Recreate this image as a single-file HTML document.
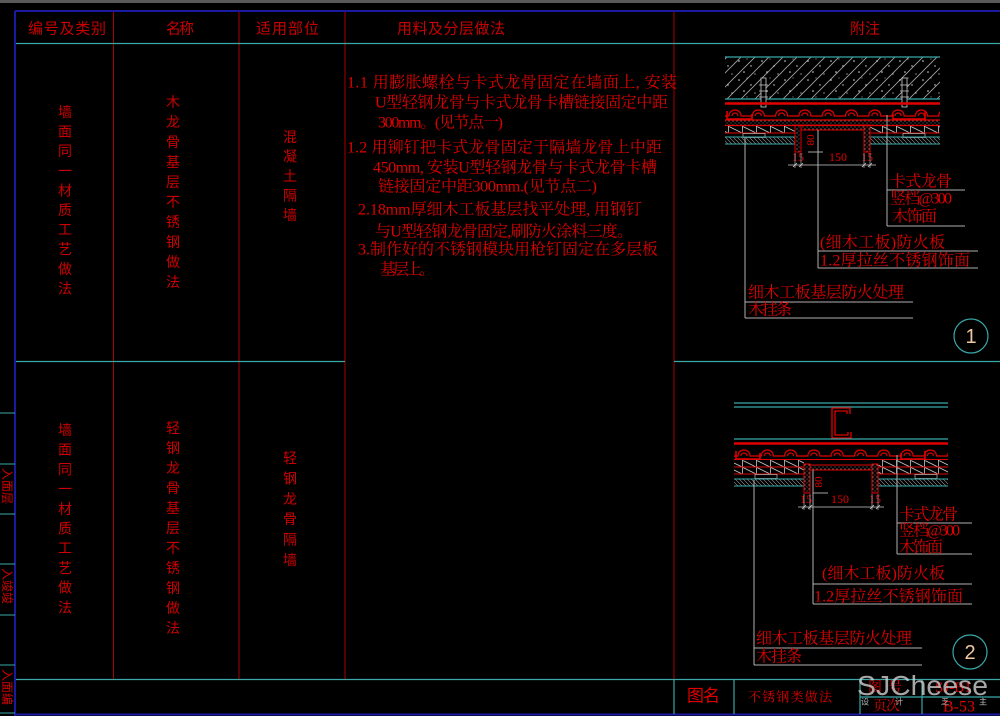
<!DOCTYPE html>
<html><head><meta charset="utf-8">
<style>
html,body{margin:0;padding:0;background:#000;overflow:hidden;}
svg{display:block;}
.h{font-family:"Liberation Sans","Noto Sans CJK SC",sans-serif;font-size:15px;fill:#c80000;dominant-baseline:central;}
.v{font-family:"Liberation Sans","Noto Sans CJK SC",sans-serif;font-size:14px;fill:#cc0000;text-anchor:middle;dominant-baseline:central;}
.t{font-family:"Liberation Serif","Noto Serif CJK SC",serif;font-size:16px;fill:#e00000;dominant-baseline:central;}
.d{font-family:"Liberation Serif","Noto Serif CJK SC",serif;font-size:12px;fill:#e00000;text-anchor:middle;dominant-baseline:central;}
.s{font-family:"Liberation Sans","Noto Sans CJK SC",sans-serif;font-size:8px;fill:#bbbbbb;dominant-baseline:central;}
</style></head><body>
<svg width="1000" height="716" viewBox="0 0 1000 716" xmlns="http://www.w3.org/2000/svg">
<defs>
  <pattern id="conc" patternUnits="userSpaceOnUse" width="14" height="14">
    <path d="M0 14 L14 0 M-2 2 L2 -2 M12 16 L16 12" stroke="#a8a8a8" stroke-width="0.8"/>
  </pattern>
  <pattern id="dots" patternUnits="userSpaceOnUse" width="23" height="19">
    <circle cx="3" cy="4" r="0.8" fill="#ddd"/><circle cx="15" cy="9" r="0.7" fill="#ddd"/>
    <circle cx="8" cy="15" r="0.8" fill="#ddd"/><circle cx="19" cy="17" r="0.6" fill="#ddd"/>
    <circle cx="11" cy="2" r="0.5" fill="#ddd"/>
  </pattern>
  <pattern id="fine" patternUnits="userSpaceOnUse" width="4" height="4">
    <circle cx="1" cy="1" r="0.6" fill="#b89090"/><circle cx="3" cy="3" r="0.5" fill="#b89090"/>
  </pattern>
  <pattern id="zig1" patternUnits="userSpaceOnUse" x="0" y="126" width="14" height="7">
    <path d="M0 0 L14 7 M0.5 0 V7" stroke="#c8c8c8" stroke-width="0.8" fill="none"/>
  </pattern>
  <pattern id="zig2" patternUnits="userSpaceOnUse" x="0" y="460" width="14" height="7">
    <path d="M0 0 L14 7 M0.5 0 V7" stroke="#c8c8c8" stroke-width="0.8" fill="none"/>
  </pattern>
  <pattern id="hat" patternUnits="userSpaceOnUse" width="4" height="4">
    <path d="M0 0 L4 4 M-1 3 L1 5 M3 -1 L5 1" stroke="#9a9a9a" stroke-width="0.6"/>
  </pattern>
  <pattern id="wave1" patternUnits="userSpaceOnUse" x="725" y="106" width="23.3" height="12">
    <path d="M0 10 H4 C4 2 16 2 16 10 H23.3 M7 10 C7 6 13 6 13 10" stroke="#e00000" stroke-width="1.2" fill="none"/>
  </pattern>
  <pattern id="wave2" patternUnits="userSpaceOnUse" x="734" y="446" width="23.3" height="12">
    <path d="M0 10 H4 C4 2 16 2 16 10 H23.3 M7 10 C7 6 13 6 13 10" stroke="#e00000" stroke-width="1.2" fill="none"/>
  </pattern>
</defs>

<rect x="0" y="0" width="1000" height="716" fill="#000"/>
<rect x="0" y="0" width="1000" height="3" fill="#5a5a5a"/>

<!-- frame -->
<line x1="15" y1="11" x2="1000" y2="11" stroke="#1a1aa0" stroke-width="2"/>
<line x1="15" y1="11" x2="15" y2="716" stroke="#1a1aa0" stroke-width="2"/>
<line x1="15" y1="714.5" x2="1000" y2="714.5" stroke="#1a1aa0" stroke-width="2"/>

<!-- grid -->
<g stroke="#a80000" stroke-width="1">
  <line x1="113.5" y1="12" x2="113.5" y2="679"/>
  <line x1="239" y1="12" x2="239" y2="679"/>
  <line x1="345" y1="12" x2="345" y2="679"/>
  <line x1="674" y1="12" x2="674" y2="679"/>
</g>
<g stroke="#3aa8a8" stroke-width="1.2">
  <line x1="16" y1="43.5" x2="1000" y2="43.5"/>
  <line x1="16" y1="361.5" x2="345" y2="361.5"/>
  <line x1="674" y1="361.5" x2="1000" y2="361.5"/>
  <line x1="16" y1="679.5" x2="1000" y2="679.5"/>
  <line x1="674" y1="679.5" x2="674" y2="714"/>
  <line x1="734" y1="679.5" x2="734" y2="714"/>
  <line x1="860" y1="679.5" x2="860" y2="714"/>
  <line x1="922" y1="679.5" x2="922" y2="714"/>
  <line x1="860" y1="697" x2="1000" y2="697"/>
</g>

<!-- left margin ticks -->
<g stroke="#3aa8a8" stroke-width="1">
  <line x1="0" y1="413" x2="15" y2="413"/>
  <line x1="0" y1="464" x2="15" y2="464"/>
  <line x1="0" y1="514" x2="15" y2="514"/>
  <line x1="0" y1="564" x2="15" y2="564"/>
  <line x1="0" y1="615" x2="15" y2="615"/>
  <line x1="0" y1="665" x2="15" y2="665"/>
  <line x1="0" y1="713" x2="15" y2="713"/>
</g>
<g style="font-family:'Liberation Sans','Noto Sans CJK SC',sans-serif;font-size:12px;fill:#d40000;">
  <text transform="translate(3,468) rotate(90)">入面层</text>
  <text transform="translate(3,568) rotate(90)">入竣竣</text>
  <text transform="translate(3,669) rotate(90)">入面编</text>
</g>

<!-- headers -->
<text class="h" x="28" y="29" textLength="78" lengthAdjust="spacing">编号及类别</text>
<text class="h" x="166" y="29" textLength="28" lengthAdjust="spacing">名称</text>
<text class="h" x="256" y="29" textLength="63" lengthAdjust="spacing">适用部位</text>
<text class="h" x="397" y="29" textLength="108" lengthAdjust="spacing">用料及分层做法</text>
<text class="h" x="850" y="29" textLength="30" lengthAdjust="spacing">附注</text>

<!-- vertical cells row 1 -->
<text class="v" x="65" y="112">墙</text><text class="v" x="65" y="131.6">面</text><text class="v" x="65" y="151.2">同</text><text class="v" x="65" y="170.8">一</text><text class="v" x="65" y="190.4">材</text><text class="v" x="65" y="210">质</text><text class="v" x="65" y="229.6">工</text><text class="v" x="65" y="249.2">艺</text><text class="v" x="65" y="268.8">做</text><text class="v" x="65" y="288.4">法</text>
<text class="v" x="173" y="102">木</text><text class="v" x="173" y="122">龙</text><text class="v" x="173" y="142">骨</text><text class="v" x="173" y="162">基</text><text class="v" x="173" y="182">层</text><text class="v" x="173" y="202">不</text><text class="v" x="173" y="222">锈</text><text class="v" x="173" y="242">钢</text><text class="v" x="173" y="262">做</text><text class="v" x="173" y="282">法</text>
<text class="v" x="290" y="137">混</text><text class="v" x="290" y="156.5">凝</text><text class="v" x="290" y="176">土</text><text class="v" x="290" y="195.5">隔</text><text class="v" x="290" y="215">墙</text>
<!-- vertical cells row 2 -->
<text class="v" x="65" y="430">墙</text><text class="v" x="65" y="449.7">面</text><text class="v" x="65" y="469.4">同</text><text class="v" x="65" y="489.1">一</text><text class="v" x="65" y="508.8">材</text><text class="v" x="65" y="528.5">质</text><text class="v" x="65" y="548.2">工</text><text class="v" x="65" y="567.9">艺</text><text class="v" x="65" y="587.6">做</text><text class="v" x="65" y="607.3">法</text>
<text class="v" x="173" y="428">轻</text><text class="v" x="173" y="448">钢</text><text class="v" x="173" y="468">龙</text><text class="v" x="173" y="488">骨</text><text class="v" x="173" y="508">基</text><text class="v" x="173" y="528">层</text><text class="v" x="173" y="548">不</text><text class="v" x="173" y="568">锈</text><text class="v" x="173" y="588">钢</text><text class="v" x="173" y="608">做</text><text class="v" x="173" y="628">法</text>
<text class="v" x="290" y="458">轻</text><text class="v" x="290" y="478.4">钢</text><text class="v" x="290" y="498.8">龙</text><text class="v" x="290" y="519.2">骨</text><text class="v" x="290" y="539.6">隔</text><text class="v" x="290" y="560">墙</text>

<!-- middle text -->
<text class="t" x="347" y="83" textLength="330" lengthAdjust="spacing">1.1 用膨胀螺栓与卡式龙骨固定在墙面上, 安装</text>
<text class="t" x="375" y="103" textLength="293" lengthAdjust="spacing">U型轻钢龙骨与卡式龙骨卡槽链接固定中距</text>
<text class="t" x="378" y="123" textLength="125" lengthAdjust="spacing">300mm。(见节点一)</text>
<text class="t" x="347" y="148" textLength="315" lengthAdjust="spacing">1.2 用铆钉把卡式龙骨固定于隔墙龙骨上中距</text>
<text class="t" x="373" y="168" textLength="284" lengthAdjust="spacing">450mm, 安装U型轻钢龙骨与卡式龙骨卡槽</text>
<text class="t" x="378" y="187" textLength="219" lengthAdjust="spacing">链接固定中距300mm.(见节点二)</text>
<text class="t" x="358" y="210" textLength="284" lengthAdjust="spacing">2.18mm厚细木工板基层找平处理, 用钢钉</text>
<text class="t" x="375" y="232" textLength="258" lengthAdjust="spacing">与U型轻钢龙骨固定,刷防火涂料三度。</text>
<text class="t" x="358" y="250" textLength="300" lengthAdjust="spacing">3.制作好的不锈钢模块用枪钉固定在多层板</text>
<text class="t" x="380" y="270" textLength="55" lengthAdjust="spacing">基层上。</text>

<!-- ============ DETAIL 1 ============ -->
<rect x="725" y="57" width="215" height="42" fill="url(#conc)"/>
<rect x="725" y="57" width="215" height="42" fill="url(#dots)"/>
<line x1="725" y1="57" x2="940" y2="57" stroke="#3aa8a8" stroke-width="1.2"/>
<line x1="725" y1="99" x2="940" y2="99" stroke="#3aa8a8" stroke-width="1.2"/>
<g stroke="#cccccc" stroke-width="0.8" fill="#000">
  <rect x="761" y="78" width="5" height="29"/>
  <rect x="902" y="78" width="5" height="29"/>
  <path d="M759 85 H768 M759 91 H768 M759 97 H768 M900 85 H909 M900 91 H909 M900 97 H909" fill="none"/>
</g>
<line x1="725" y1="103.5" x2="940" y2="103.5" stroke="#e00000" stroke-width="2.5"/>
<rect x="725" y="106" width="215" height="12" fill="url(#wave1)"/>
<path d="M727 111 V119 H752 V114 M893 114 V119 H925 V111" stroke="#e00000" stroke-width="1.6" fill="none"/>
<rect x="725" y="120" width="215" height="5" fill="url(#fine)"/>
<line x1="725" y1="120" x2="940" y2="120" stroke="#e00000" stroke-width="1.2"/>
<line x1="725" y1="125.5" x2="940" y2="125.5" stroke="#e00000" stroke-width="1.2"/>
<rect x="725" y="126" width="70" height="7" fill="url(#zig1)"/>
<rect x="870" y="126" width="70" height="7" fill="url(#zig1)"/>
<path d="M725 133 H795 M870 133 H940" stroke="#e00000" stroke-width="1"/>
<rect x="743" y="133.5" width="22" height="4" fill="none" stroke="#bbb" stroke-width="0.7"/>
<rect x="903" y="133.5" width="22" height="4" fill="none" stroke="#bbb" stroke-width="0.7"/>
<rect x="725" y="137" width="70" height="7" fill="url(#hat)"/>
<rect x="870" y="137" width="70" height="7" fill="url(#hat)"/>
<path d="M725 137 H795 M870 137 H940 M725 144 H795 M870 144 H940" stroke="#3aa8a8" stroke-width="1.1"/>
<g stroke="#e00000" stroke-width="1">
  <rect x="795" y="125" width="6" height="27" fill="url(#fine)"/>
  <rect x="864" y="125" width="6" height="27" fill="url(#fine)"/>
  <rect x="801" y="125" width="63" height="5" fill="url(#fine)"/>
</g>
<text class="d" transform="translate(811,140) rotate(-90)" style="font-size:11px">80</text>
<line x1="808" y1="152" x2="823" y2="152" stroke="#cccccc" stroke-width="0.8"/>
<text class="d" x="798" y="157">15</text>
<text class="d" x="838" y="157">150</text>
<text class="d" x="867" y="157">15</text>
<g stroke="#cccccc" stroke-width="0.8">
  <line x1="788" y1="165" x2="876" y2="165"/>
  <path d="M793 167 L797 163 M799 167 L803 163 M862 167 L866 163 M868 167 L872 163"/>
  <path d="M795 153 V168 M801 153 V168 M864 153 V168 M870 153 V168" stroke-width="0.6"/>
</g>
<g stroke="#b0b0b0" stroke-width="1">
  <line x1="745" y1="138" x2="745" y2="318"/>
  <line x1="818" y1="130" x2="818" y2="268"/>
  <line x1="887" y1="115" x2="887" y2="226"/>
  <line x1="887" y1="190" x2="965" y2="190"/>
  <line x1="887" y1="226" x2="965" y2="226"/>
  <line x1="818" y1="251" x2="978" y2="251"/>
  <line x1="818" y1="268" x2="978" y2="268"/>
  <line x1="745" y1="302" x2="913" y2="302"/>
  <line x1="745" y1="318" x2="913" y2="318"/>
</g>
<text class="t" x="890" y="182" textLength="62" lengthAdjust="spacing">卡式龙骨</text>
<text class="t" x="890" y="199" textLength="62" lengthAdjust="spacing">竖档@300</text>
<text class="t" x="892" y="217" textLength="45" lengthAdjust="spacing">木饰面</text>
<text class="t" x="820" y="243" textLength="125" lengthAdjust="spacing">(细木工板)防火板</text>
<text class="t" x="820" y="261" textLength="150" lengthAdjust="spacing">1.2厚拉丝不锈钢饰面</text>
<text class="t" x="748" y="293" textLength="156" lengthAdjust="spacing">细木工板基层防火处理</text>
<text class="t" x="748" y="310" textLength="44" lengthAdjust="spacing">木挂条</text>
<circle cx="971" cy="336" r="17" fill="none" stroke="#3aa8a8" stroke-width="1.2"/>
<text x="971" y="337" style="font-family:'Liberation Sans',sans-serif;font-size:20px;fill:#f0c8a0;text-anchor:middle;dominant-baseline:central;">1</text>

<!-- ============ DETAIL 2 ============ -->
<path d="M734 403 H948 M734 407 H948" stroke="#3aa8a8" stroke-width="1.2"/>
<path d="M850 414 V408 H832 V438 H851 V432 M847 414 V411 H835 V435 H848 V432" stroke="#e00000" stroke-width="1.3" fill="none"/>
<line x1="734" y1="439" x2="948" y2="439" stroke="#3aa8a8" stroke-width="1.2"/>
<line x1="734" y1="443.5" x2="948" y2="443.5" stroke="#e00000" stroke-width="2.5"/>
<rect x="734" y="446" width="214" height="12" fill="url(#wave2)"/>
<path d="M736 451 V459 H760 V453 M901 453 V459 H925 V451" stroke="#e00000" stroke-width="1.6" fill="none"/>
<rect x="734" y="460" width="70" height="14" fill="url(#zig2)"/>
<rect x="878" y="460" width="70" height="14" fill="url(#zig2)"/>
<path d="M734 459.5 H948 M734 467 H804 M878 467 H948 M734 474 H804 M878 474 H948" stroke="#e00000" stroke-width="1"/>
<rect x="755" y="474.5" width="22" height="4" fill="none" stroke="#bbb" stroke-width="0.7"/>
<rect x="915" y="474.5" width="22" height="4" fill="none" stroke="#bbb" stroke-width="0.7"/>
<rect x="734" y="479" width="70" height="7" fill="url(#hat)"/>
<rect x="878" y="479" width="70" height="7" fill="url(#hat)"/>
<path d="M734 479 H804 M878 479 H948 M734 486 H804 M878 486 H948" stroke="#3aa8a8" stroke-width="1.1"/>
<g stroke="#e00000" stroke-width="1">
  <rect x="804" y="464" width="6" height="29" fill="url(#fine)"/>
  <rect x="872" y="464" width="6" height="29" fill="url(#fine)"/>
  <rect x="810" y="465" width="62" height="5" fill="url(#fine)"/>
</g>
<text class="d" transform="translate(819,482) rotate(-90)" style="font-size:11px">80</text>
<line x1="813" y1="493" x2="828" y2="493" stroke="#cccccc" stroke-width="0.8"/>
<text class="d" x="806" y="499">15</text>
<text class="d" x="840" y="499">150</text>
<text class="d" x="875" y="499">15</text>
<g stroke="#cccccc" stroke-width="0.8">
  <line x1="798" y1="507" x2="884" y2="507"/>
  <path d="M802 509 L806 505 M808 509 L812 505 M870 509 L874 505 M876 509 L880 505"/>
  <path d="M804 494 V510 M810 494 V510 M872 494 V510 M878 494 V510" stroke-width="0.6"/>
</g>
<g stroke="#b0b0b0" stroke-width="1">
  <line x1="754" y1="480" x2="754" y2="665"/>
  <line x1="813" y1="470" x2="813" y2="604"/>
  <line x1="897" y1="455" x2="897" y2="554"/>
  <line x1="897" y1="523" x2="972" y2="523"/>
  <line x1="897" y1="554" x2="972" y2="554"/>
  <line x1="813" y1="584" x2="972" y2="584"/>
  <line x1="813" y1="604" x2="972" y2="604"/>
  <line x1="754" y1="648" x2="922" y2="648"/>
  <line x1="754" y1="665" x2="922" y2="665"/>
</g>
<text class="t" x="899" y="515" textLength="59" lengthAdjust="spacing">卡式龙骨</text>
<text class="t" x="899" y="531" textLength="61" lengthAdjust="spacing">竖档@300</text>
<text class="t" x="899" y="548" textLength="44" lengthAdjust="spacing">木饰面</text>
<text class="t" x="822" y="574" textLength="123" lengthAdjust="spacing">(细木工板)防火板</text>
<text class="t" x="814" y="597" textLength="149" lengthAdjust="spacing">1.2厚拉丝不锈钢饰面</text>
<text class="t" x="756" y="639" textLength="156" lengthAdjust="spacing">细木工板基层防火处理</text>
<text class="t" x="756" y="657" textLength="46" lengthAdjust="spacing">木挂条</text>
<circle cx="970" cy="652" r="17" fill="none" stroke="#3aa8a8" stroke-width="1.2"/>
<text x="970" y="653" style="font-family:'Liberation Sans',sans-serif;font-size:20px;fill:#f0c8a0;text-anchor:middle;dominant-baseline:central;">2</text>

<!-- title block -->
<text x="687" y="696" style="font-family:'Liberation Sans','Noto Sans CJK SC',sans-serif;font-size:17px;fill:#e00000;dominant-baseline:central;" textLength="33" lengthAdjust="spacing">图名</text>
<text x="748" y="697" style="font-family:'Liberation Serif','Noto Serif CJK SC',serif;font-size:13px;fill:#e00000;dominant-baseline:central;" textLength="84" lengthAdjust="spacing">不锈钢类做法</text>
<text x="868" y="688" style="font-family:'Liberation Serif','Noto Serif CJK SC',serif;font-size:14px;fill:#e00000;dominant-baseline:central;" textLength="34" lengthAdjust="spacing">图号</text>
<text x="935" y="688" style="font-family:'Liberation Serif',serif;font-size:15px;fill:#e00000;dominant-baseline:central;">SJ-B1</text>
<text x="873" y="707" style="font-family:'Liberation Serif','Noto Serif CJK SC',serif;font-size:14px;fill:#e00000;dominant-baseline:central;" textLength="27" lengthAdjust="spacing">页次</text>
<text x="943" y="707" style="font-family:'Liberation Serif',serif;font-size:16px;fill:#e00000;dominant-baseline:central;" textLength="32" lengthAdjust="spacing">B-53</text>
<text class="s" x="861" y="702">设</text>
<text class="s" x="895" y="702">计</text>
<text class="s" x="941" y="702">乏</text>
<text class="s" x="979" y="702">主</text>
<text x="857" y="695" style="font-family:'Liberation Sans',sans-serif;font-size:28px;fill:#d0d0d0;fill-opacity:0.8;" textLength="131" lengthAdjust="spacingAndGlyphs">SJCheese</text>
</svg>
</body></html>
